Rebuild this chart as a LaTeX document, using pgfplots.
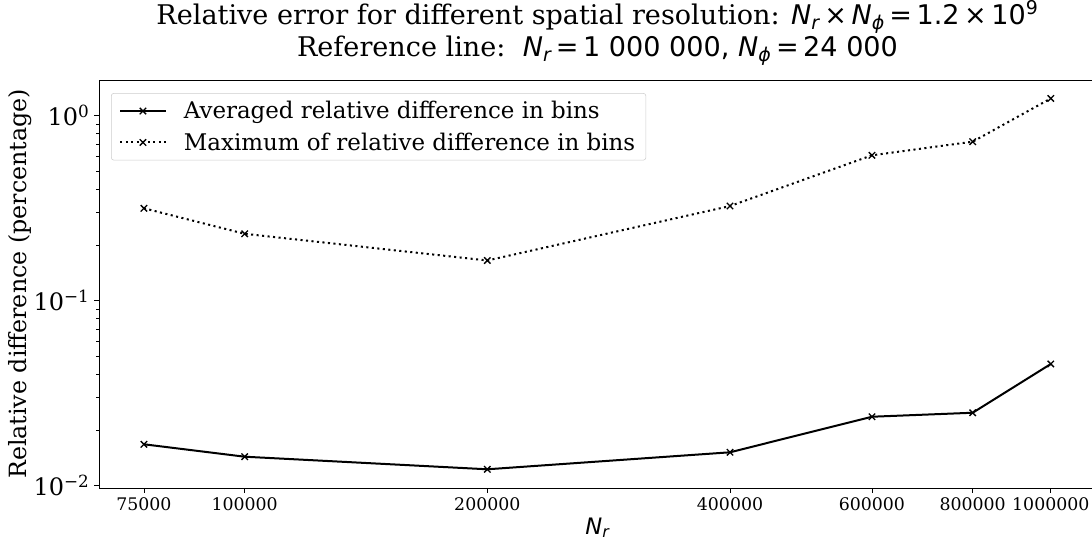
\documentclass[border=0pt]{standalone}
\usepackage{fontspec}
\setmainfont{DejaVu Serif}
\newfontfamily\dvs{DejaVu Sans}
\usepackage{pgfplots}
\pgfplotsset{compat=1.18}

% symbols set like the plotting library's math text
\newcommand{\Nr}{{\dvs\itshape N}\textsubscript{\dvs\itshape r}}
\newcommand{\Nphi}{{\dvs\itshape N}\textsubscript{\dvs\itshape ϕ}}

\pgfplotstableread{
N        avg      max
75000    0.01675  0.316
100000   0.01435  0.230
200000   0.01227  0.165
400000   0.01516  0.325
600000   0.0236   0.611
800000   0.0248   0.724
1000000  0.0455   1.24
}\errtable

\pgfplotsset{
  legend image code/.code={%
    \draw[mark repeat=2,mark phase=2,#1]
      plot coordinates {(0pt,0pt) (17pt,0pt) (34pt,0pt)};},
}

\begin{document}
\begin{tikzpicture}
\begin{axis}[
  name=ax,
  xmode=log, ymode=log,
  scale only axis, width=747.75pt, height=306pt,
  xmin=65970, xmax=1138000, ymin=0.00972, ymax=1.56,
  axis line style={line width=0.6pt, black},
  tick pos=left,
  tick align=outside,
  major tick length=3.65pt, minor tick length=2.1pt,
  every tick/.style={line width=0.6pt, black},
  xtick={75000,100000,200000,400000,600000,800000,1000000},
  xticklabels={75000,100000,200000,400000,600000,800000,1000000},
  xminorticks=false,
  ytick={0.01,0.1,1},
  yticklabels={10\textsuperscript{−2},10\textsuperscript{−1},10\textsuperscript{0}},
  minor ytick={0.02,0.03,0.04,0.05,0.06,0.07,0.08,0.09,0.2,0.3,0.4,0.5,0.6,0.7,0.8,0.9},
  xticklabel style={font=\fontsize{13}{15}\selectfont},
  yticklabel style={font=\fontsize{18}{21}\selectfont},
  xlabel={\Nr},
  xlabel style={at={([yshift=-34.5pt]rel axis cs:0.5,0)}, anchor=base,
                font=\fontsize{17}{20}\selectfont},
  ylabel={Relative difference (percentage)},
  ylabel style={at={([xshift=-47.25pt]rel axis cs:0,0.5)}, anchor=south,
                font=\fontsize{17.8}{21}\selectfont},
  legend cell align=left,
  legend style={at={(0.012,0.968)}, anchor=north west,
                draw=black!20, rounded corners=2pt,
                font=\fontsize{17.2}{20}\selectfont,
                row sep=5pt, column sep=11pt, inner xsep=6pt, inner ysep=4pt},
]
\addplot[black, line width=1.5pt, mark=x, mark size=3.4pt,
         mark options={line width=1pt, solid}]
  table[x=N, y=avg] {\errtable};
\addlegendentry{Averaged relative difference in bins}
\addplot[black, line width=1.5pt, dash pattern=on 1.56pt off 2.58pt,
         mark=x, mark size=3.4pt, mark options={line width=1pt, solid}]
  table[x=N, y=max] {\errtable};
\addlegendentry{Maximum of relative difference in bins}
\end{axis}
% two-line title over the middle of the axis
\node[anchor=base, yshift=41.25pt, font=\fontsize{20.3}{24}\selectfont] at (ax.north)
  {Relative error for different spatial resolution: \Nr{\dvs\,×\,}\Nphi{\dvs\,=\,1.2\,×\,10\textsuperscript{9}}};
\node[anchor=base, yshift=17.25pt, font=\fontsize{20.3}{24}\selectfont] at (ax.north)
  {Reference line:\ \ \Nr{\dvs\,=\,1~000~000,} \Nphi{\dvs\,=\,24~000}};
% the figure is trimmed just inside the right edge of the frame
\pgfresetboundingbox
\path ([xshift=-74.25pt, yshift=-40.5pt]ax.south west)
  rectangle ([xshift=-3pt, yshift=60pt]ax.north east);
\end{tikzpicture}
\end{document}
